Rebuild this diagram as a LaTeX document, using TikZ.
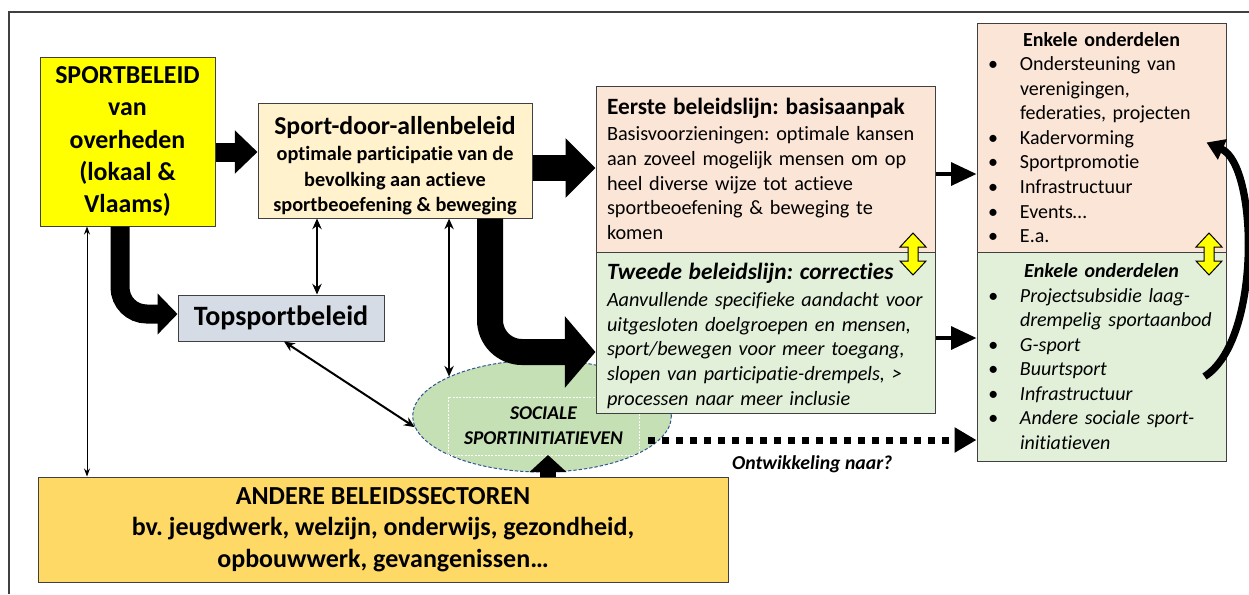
\documentclass[tikz,border=0pt]{standalone}
\usepackage{fontspec}
\setmainfont{Carlito}[Ligatures={NoCommon}]
\usetikzlibrary{arrows.meta,shapes.geometric,calc}
\definecolor{cyellow}{HTML}{FFFF00}
\definecolor{cbeige}{HTML}{FFF2CC}
\definecolor{cgrayblue}{HTML}{D6DCE5}
\definecolor{cpeach}{HTML}{FBE5D6}
\definecolor{cgreen}{HTML}{E2F0D9}
\definecolor{cellipse}{HTML}{C5E0B4}
\definecolor{cgold}{HTML}{FFD966}
\definecolor{cedge}{HTML}{404040}
\definecolor{cdash}{HTML}{2F5597}
\newcommand{\bulx}{\makebox[24pt][l]{\textbullet}}
\newcommand{\indx}{\hspace*{24pt}}
\frenchspacing
\begin{document}
\begin{tikzpicture}[x=0.75pt,y=-0.75pt,
  box/.style={draw=cedge,line width=0.75pt,inner sep=0pt,rectangle},
  sz/.style 2 args={minimum width=#1*0.75pt,minimum height=#2*0.75pt},
  thinarrow/.style={line width=1.5pt,{Stealth[length=8pt,width=7pt]}-{Stealth[length=8pt,width=7pt]}},
  midarrow/.style={line width=3pt,-{Triangle[length=19pt,width=17pt]}},
  yarrow/.style={draw=black,line width=0.75pt,fill=cyellow},
]
\useasboundingbox (0,0) rectangle (1249,594);
\draw[cedge,line width=1pt] (9,594) -- (9,12) -- (1249,12);

% social initiatives ellipse (behind the boxes)
\node[ellipse,draw=cdash,dash pattern=on 2.5pt off 1.5pt,line width=0.75pt,fill=cellipse,
  minimum width=194pt,minimum height=84pt,inner sep=0pt] (soc) at (542,416) {};
\node[draw=white,dash pattern=on 1.5pt off 1pt,line width=0.5pt,inner sep=0pt,
  sz={191}{58},align=center,
  font=\fontsize{14.6}{18.6}\selectfont\bfseries\itshape] (socr) at (543.5,426)
  {SOCIALE\\SPORTINITIATIEVEN};

% boxes
\node[box,fill=cyellow,sz={175}{169},align=center,
  font=\fontsize{19.4}{24.2}\selectfont\bfseries] (sb) at (127.5,141.5)
  {SPORTBELEID\\van\\overheden\\(lokaal \&\\Vlaams)};
\node[box,fill=cbeige,sz={274}{115}] (sda) at (395,160.5) {};
\node[inner sep=0pt,align=center,font=\fontsize{15.2}{18.8}\selectfont\bfseries] (sdat)
  at ($(sda.center)+(0,5)$)
  {{\fontsize{19.3}{18.8}\selectfont Sport-door-allenbeleid}\\[1pt]
   optimale participatie van de\\bevolking aan actieve\\sportbeoefening \& beweging};
\node[box,fill=cgrayblue,sz={206}{46},align=center,
  font=\fontsize{21}{25}\selectfont\bfseries] (top) at (281,318) {Topsportbeleid};
\node[box,fill=cpeach,sz={339}{166},text width=237.75pt,align=left,
  font=\fontsize{15.2}{18.6}\selectfont] (eer) at (765.5,169)
  {{\fontsize{17.5}{18.6}\selectfont\bfseries Eerste beleidslijn: basisaanpak}\\[1pt]
   Basisvoorzieningen: optimale kansen\\
   aan zoveel mogelijk mensen om op\\
   heel diverse wijze tot actieve\\
   sportbeoefening \& beweging te\\
   komen};
\node[box,fill=cgreen,sz={339}{161}] (twe) at (765.5,332.5) {};
\node[inner sep=0pt,text width=237.75pt,align=left,
  font=\fontsize{15.2}{18.6}\selectfont\itshape] (twet) at ($(twe.center)+(0,3.5)$)
  {{\fontsize{17.5}{18.6}\selectfont\bfseries Tweede beleidslijn: correcties}\\[1.5pt]
   \mbox{Aanvullende specifieke aandacht voor}\\
   \mbox{uitgesloten doelgroepen en mensen,}\\
   \mbox{sport/bewegen voor meer toegang,}\\
   \mbox{slopen van participatie-drempels, >}\\
   \mbox{processen naar meer inclusie}};
\node[box,fill=cpeach,sz={249}{229},text width=170.25pt,align=left,
  font=\fontsize{15}{18.4}\selectfont] (rt) at (1101.5,137.5)
  {\makebox[170.25pt]{\bfseries Enkele onderdelen}\\
   \bulx \mbox{Ondersteuning van}\\
   \indx \mbox{verenigingen,}\\
   \indx \mbox{federaties, projecten}\\
   \bulx Kadervorming\\
   \bulx Sportpromotie\\
   \bulx Infrastructuur\\
   \bulx Events…\\
   \bulx E.a.};
\node[box,fill=cgreen,sz={249}{209},text width=170.25pt,align=left,
  font=\fontsize{15}{18.4}\selectfont\itshape] (rb) at (1101.5,356.5)
  {\makebox[170.25pt]{\bfseries Enkele onderdelen}\\
   \bulx \mbox{Projectsubsidie laag-}\\
   \indx \mbox{drempelig sportaanbod}\\
   \bulx G-sport\\
   \bulx Buurtsport\\
   \bulx Infrastructuur\\
   \bulx \mbox{Andere sociale sport-}\\
   \indx initiatieven};
\node[box,fill=cgold,sz={690}{105},align=center,
  font=\fontsize{19.5}{23.8}\selectfont\bfseries] (and) at (383,529.5)
  {ANDERE BELEIDSSECTOREN\\bv. jeugdwerk, welzijn, onderwijs, gezondheid,\\opbouwwerk, gevangenissen…};

% yellow double arrows (shapes)
\foreach \xx in {913,1209}{
  \draw[yarrow,shift={(\xx,254)}] (0,-21) -- (13,-7) -- (5,-7) -- (5,7) -- (13,7) -- (0,21)
    -- (-13,7) -- (-5,7) -- (-5,-7) -- (-13,-7) -- cycle;
}

% big block arrows
\draw[line width=14.25pt,-{Triangle[length=17pt,width=31.5pt]}]
  (sb.east |- 0,152) -- (sda.west |- 0,152);
\draw[line width=19.5pt,-{Triangle[length=22.5pt,width=43.5pt]}]
  (sda.east |- 0,168) -- (eer.west |- 0,168);
\draw[line width=19.5pt,rounded corners=24pt,-{Triangle[length=23pt,width=52.5pt]}]
  (sda.south -| 490,0) |- (twe.west |- 0,352);
\draw[line width=14.25pt,rounded corners=20pt,-{Triangle[length=15pt,width=30pt]}]
  (sb.south -| 120,0) |- (top.west |- 0,314);
\coordinate (socin) at (548,455);
\draw[line width=12pt,-{Triangle[length=12.75pt,width=27pt]}]
  (and.north -| socin) -- (socin);

% thin double arrows
\draw[thinarrow] (sda.south -| 317,0) -- (top.north -| 317,0);
\draw[thinarrow] (sda.south -| soc.157) -- (soc.157);
\draw[thinarrow] (top.south -| 284,0) -- (soc.185);
\draw[line width=0.75pt,{Stealth[length=6pt,width=4.5pt]}-{Stealth[length=6pt,width=4.5pt]}]
  (sb.south -| 87,0) -- (and.north -| 87,0);

% medium arrows
\draw[midarrow] (eer.east |- 0,174) -- (rt.west |- 0,174);
\draw[midarrow] (twe.east |- 0,338) -- (rb.west |- 0,338);

% dotted development arrow
\coordinate (socout) at (648,440);
\draw[line width=5.25pt,dash pattern=on 5.25pt off 5.25pt,-{Triangle[length=16.5pt,width=18pt]}]
  (socout) -- node[midway,below=9pt,inner sep=0pt,
    font=\fontsize{14.8}{17}\selectfont\bfseries\itshape] (lbl) {Ontwikkeling naar?}
  (rb.west |- socout);

% curved feedback arrow
\draw[line width=5.5pt,-{Triangle[length=13pt,width=16pt]}]
  ($(rb.east)+(-22,20)$) .. controls (1262,340) and (1258,165) .. ($(rt.east)+(-20,5)$);
\end{tikzpicture}
\end{document}
